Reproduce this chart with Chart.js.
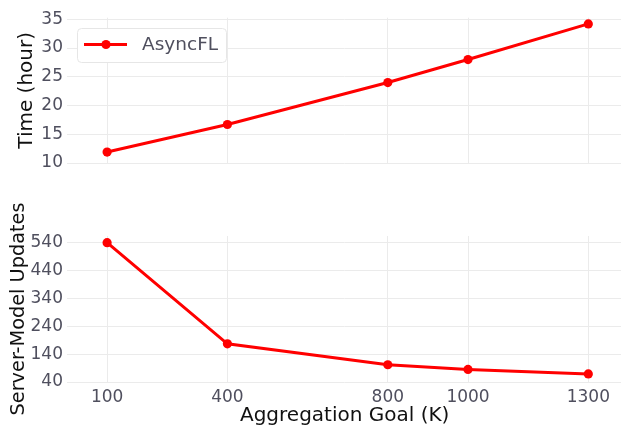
<!DOCTYPE html>
<html>
<head>
<meta charset="utf-8">
<script src="https://cdn.jsdelivr.net/npm/chart.js@4"></script>
<style>
  html, body { margin: 0; padding: 0; background: #fff; overflow: hidden; }
  #wrap { position: relative; width: 621px; height: 428px; overflow: hidden; }
  #topBox { position: absolute; left: 0; top: 0; width: 627px; height: 200px; }
  #bottomBox { position: absolute; left: 0; top: 200px; width: 627px; height: 228px; }
</style>
</head>
<body>
<div id="wrap">
  <div id="topBox"><canvas id="timeChart"></canvas></div>
  <div id="bottomBox"><canvas id="updatesChart"></canvas></div>
</div>
<script>
const seriesName = "AsyncFL";
const goals = [100, 400, 800, 1000, 1300];
const hours = [11.9, 16.7, 24.0, 28.0, 34.2];
const updates = [540, 177, 102, 85, 69];
const hourTicks = [10, 15, 20, 25, 30, 35];
const updateTicks = [40, 140, 240, 340, 440, 540];

const RED = "#ff0000";
const GRID = "#ebebeb";
const TICK_COLOR = "#4f4f5e";
const TITLE_COLOR = "#111111";
const FONT = "'DejaVu Sans', sans-serif";

Chart.defaults.font.family = FONT;
Chart.defaults.animation = false;

function points(ys) {
    return goals.map((g, i) => ({ x: g, y: ys[i] }));
}

function lineDataset(ys) {
    return {
        label: seriesName,
        data: points(ys),
        borderColor: RED,
        backgroundColor: RED,
        borderWidth: 3,
        pointRadius: 4.6,
        pointBorderWidth: 0,
        pointBackgroundColor: RED,
        tension: 0,
    };
}

function xScale(showTicks) {
    return {
        type: "linear",
        min: 0,
        max: 1385,
        afterBuildTicks: (s) => { s.ticks = goals.map((v) => ({ value: v })); },
        afterFit: (s) => { s.height = showTicks ? 46 : 0; },
        grid: { color: GRID, drawTicks: false },
        border: { display: false },
        ticks: {
            display: showTicks,
            color: TICK_COLOR,
            font: { size: 17 },
            padding: 5,
            maxRotation: 0,
            autoSkip: false,
            callback: (v) => String(v),
        },
        title: {
            display: showTicks,
            text: "Aggregation Goal (K)",
            color: TITLE_COLOR,
            font: { size: 20 },
            padding: { top: 0, bottom: 0 },
        },
    };
}

function yScale(min, max, tickVals, title, titleSize, titlePad) {
    return {
        min: min,
        max: max,
        afterBuildTicks: (s) => { s.ticks = tickVals.map((v) => ({ value: v })); },
        afterFit: (s) => { s.width = 67; },
        grid: { color: GRID, drawTicks: false },
        border: { display: false },
        ticks: {
            color: TICK_COLOR,
            font: { size: 17 },
            padding: 4,
            callback: (v) => String(v),
        },
        title: {
            display: true,
            text: title,
            color: TITLE_COLOR,
            font: { size: titleSize },
            padding: { top: titlePad, bottom: 0 },
        },
    };
}

// legend box drawn inside the top plot, like the original
const insideLegend = {
    id: "insideLegend",
    afterDraw(chart) {
        const ctx = chart.ctx;
        const ds = chart.data.datasets[0];
        ctx.save();
        ctx.beginPath();
        ctx.roundRect(77.5, 28.5, 149, 34, 4);
        ctx.fillStyle = "#ffffff";
        ctx.fill();
        ctx.strokeStyle = "#e6e6e6";
        ctx.lineWidth = 1;
        ctx.stroke();
        ctx.beginPath();
        ctx.moveTo(84, 44.5);
        ctx.lineTo(127, 44.5);
        ctx.strokeStyle = ds.borderColor;
        ctx.lineWidth = ds.borderWidth;
        ctx.stroke();
        ctx.beginPath();
        ctx.arc(106, 44.5, ds.pointRadius, 0, Math.PI * 2);
        ctx.fillStyle = ds.pointBackgroundColor;
        ctx.fill();
        ctx.font = "18.5px " + FONT;
        ctx.fillStyle = TICK_COLOR;
        ctx.textBaseline = "middle";
        ctx.textAlign = "left";
        ctx.fillText(ds.label, 142, 45.5);
        ctx.restore();
    },
};

new Chart(document.getElementById("timeChart"), {
    type: "line",
    data: { datasets: [lineDataset(hours)] },
    options: {
        responsive: true,
        maintainAspectRatio: false,
        layout: { padding: { top: 17.7, bottom: 37, left: 0, right: 0 } },
        plugins: { legend: { display: false }, tooltip: { enabled: false } },
        scales: {
            x: xScale(false),
            y: yScale(10, 35.28, hourTicks, "Time (hour)", 20, 15),
        },
    },
    plugins: [insideLegend],
});

new Chart(document.getElementById("updatesChart"), {
    type: "line",
    data: { datasets: [lineDataset(updates)] },
    options: {
        responsive: true,
        maintainAspectRatio: false,
        layout: { padding: { top: 36, bottom: 0, left: 0, right: 0 } },
        plugins: { legend: { display: false }, tooltip: { enabled: false } },
        scales: {
            x: xScale(true),
            y: yScale(40, 564, updateTicks, "Server-Model Updates", 19.3, 7),
        },
    },
});
</script>
</body>
</html>
